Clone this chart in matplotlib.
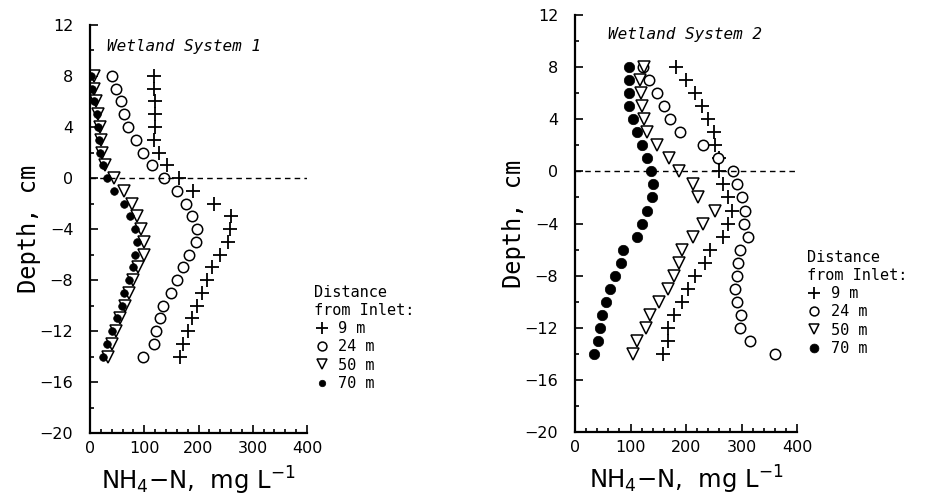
import matplotlib
matplotlib.use('Agg')
import matplotlib.pyplot as plt
from matplotlib.ticker import MultipleLocator

# depth below / above the sediment surface, cm
depth = [8, 7, 6, 5, 4, 3, 2, 1, 0, -1, -2, -3, -4, -5, -6,
         -7, -8, -9, -10, -11, -12, -13, -14]

# Wetland System 1, NH4-N (mg/L) at each distance from inlet
ws1_9m = [118, 117, 119, 119, 119, 118, 128, 141, 164, 189, 229, 260, 258,
          254, 240, 225, 215, 206, 197, 188, 181, 172, 166]
ws1_24m = [40, 48, 57, 63, 70, 85, 97, 114, 137, 161, 177, 188, 197, 195,
           182, 171, 160, 149, 135, 129, 121, 117, 98]
ws1_50m = [8, 8, 11, 15, 18, 20, 22, 28, 45, 62, 78, 87, 94, 99, 99,
           88, 80, 72, 65, 56, 48, 41, 34]
ws1_70m = [2, 4, 8, 12, 15, 17, 18, 23, 32, 44, 63, 74, 83, 86, 83,
           79, 71, 63, 58, 49, 40, 32, 23]

# Wetland System 2
ws2_9m = [182, 200, 216, 228, 240, 251, 252, 260, 260, 266, 276, 282, 276,
          266, 243, 234, 216, 204, 192, 178, 168, 167, 158]
ws2_24m = [123, 134, 147, 160, 172, 190, 230, 258, 285, 292, 300, 306, 305,
           311, 298, 293, 291, 289, 291, 299, 297, 315, 360]
ws2_50m = [124, 117, 118, 120, 124, 129, 147, 170, 188, 212, 222, 252, 231,
           212, 192, 188, 179, 168, 152, 135, 128, 111, 105]
ws2_70m = [98, 98, 98, 98, 104, 112, 120, 130, 136, 141, 138, 130, 120,
           111, 87, 83, 72, 63, 56, 49, 45, 42, 35]

labels = ['9 m', '24 m', '50 m', '70 m']

mono = 'DejaVu Sans Mono'
plt.rcParams['font.family'] = 'DejaVu Sans'


def draw_panel(ax, series, title, dot_size, title_pos):
    styles = [
        dict(marker='+', ms=9.5, mew=1.3, color='black', mfc='none'),
        dict(marker='o', ms=7.5, mew=1.1, color='black', mfc='white'),
        dict(marker='v', ms=8, mew=1.1, color='black', mfc='white'),
        dict(marker='o', ms=dot_size, mew=0.5, color='black', mfc='black'),
    ]
    handles = []
    for values, st, lab in zip(series, styles, labels):
        h, = ax.plot(values, depth, ls='none', label=lab, **st)
        handles.append(h)
    ax.axhline(0, color='black', lw=1.0, ls=(0, (4, 3)), xmin=0, xmax=1)

    ax.set_xlim(0, 400)
    ax.set_ylim(-20, 12)
    ax.xaxis.set_major_locator(MultipleLocator(100))
    ax.xaxis.set_minor_locator(MultipleLocator(20))
    ax.yaxis.set_major_locator(MultipleLocator(4))
    ax.yaxis.set_minor_locator(MultipleLocator(2))
    ax.tick_params(which='both', direction='in', width=1.2, labelsize=11.5,
                   top=False, right=False)
    ax.tick_params(which='major', length=6)
    ax.tick_params(axis='y', which='major', pad=12)
    ax.tick_params(axis='x', which='major', pad=6)
    ax.tick_params(which='minor', length=3)
    for side in ['top', 'right']:
        ax.spines[side].set_visible(False)
    for side in ['left', 'bottom']:
        ax.spines[side].set_linewidth(1.6)

    ax.set_ylabel('Depth, cm', fontsize=17, family=mono, labelpad=-1)
    ax.set_xlabel(r'NH$_4$$-$N,  mg L$^{-1}$', fontsize=17.5, labelpad=6)
    ax.text(title_pos[0], title_pos[1], title, transform=ax.transAxes,
            fontsize=11.5, family=mono, style='italic', ha='left', va='center')
    return handles


fig = plt.figure(figsize=(9.33, 4.99), dpi=100)
ax1 = fig.add_axes([0.0965, 0.132, 0.2326, 0.818])
ax2 = fig.add_axes([0.6163, 0.134, 0.238, 0.836])

h1 = draw_panel(ax1, [ws1_9m, ws1_24m, ws1_50m, ws1_70m],
                'Wetland System 1', 5.5, (0.08, 0.946))
h2 = draw_panel(ax2, [ws2_9m, ws2_24m, ws2_50m, ws2_70m],
                'Wetland System 2', 7.5, (0.15, 0.954))

for ax, handles, pos in [(ax1, h1, (0.325, 0.45)), (ax2, h2, (0.853, 0.52))]:
    leg = ax.legend(handles=handles, title='Distance\nfrom Inlet:',
                    loc='upper left', bbox_to_anchor=pos,
                    bbox_transform=fig.transFigure, frameon=False,
                    prop={'family': mono, 'size': 11}, handlelength=1.0,
                    handletextpad=0.6, labelspacing=0.22, borderpad=0.2,
                    alignment='left', markerscale=0.85)
    leg.get_title().set_fontfamily(mono)
    leg.get_title().set_fontsize(11)

fig.savefig('out.png', dpi=100)
